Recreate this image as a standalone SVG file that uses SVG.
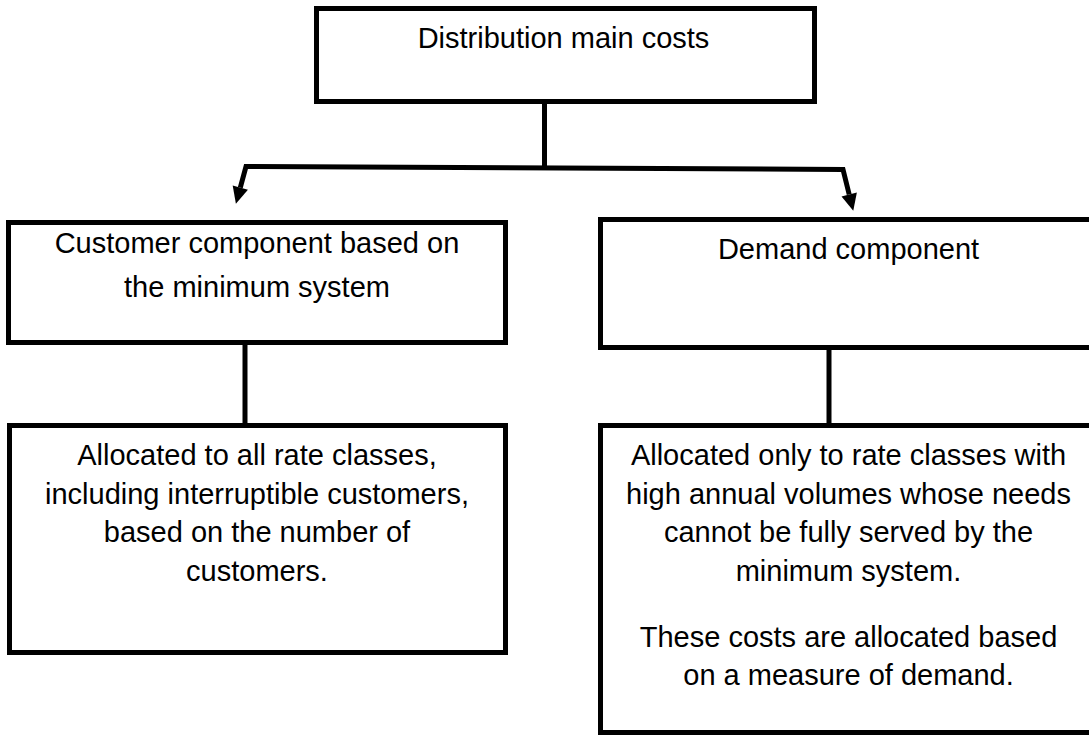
<svg xmlns="http://www.w3.org/2000/svg" width="1089" height="736" viewBox="0 0 1089 736">
<style>
.box{fill:#fff;stroke:#000;stroke-width:5}
.t{font-family:"Liberation Sans",Arial,sans-serif;font-size:29px;fill:#000;text-anchor:middle}
.c{fill:none;stroke:#000;stroke-width:5;stroke-linejoin:miter}
</style>
<defs>
<marker id="ah" markerUnits="userSpaceOnUse" markerWidth="20" markerHeight="20" refX="0" refY="0" viewBox="-1 -9 19 18" orient="auto-start-reverse" overflow="visible">
<path d="M0,-7.5 L16,0 L0,7.5 z" fill="#000"/>
</marker>
</defs>
<rect width="1089" height="736" fill="#fff"/>
<g id="connectors">
<path class="c" d="M544.5,104 L544.5,168"/>
<path class="c" d="M240.3,187.6 L246,166.5 L843,169.5 L849.2,194.5" marker-start="url(#ah)" marker-end="url(#ah)"/>
<path class="c" d="M245,345 L245,423" stroke-width="4.5"/>
<path class="c" d="M829,350 L829,423" stroke-width="4.5"/>
</g>
<g id="main-costs">
<rect class="box" x="316.5" y="8.5" width="498" height="93"/>
<text class="t" x="563.5" y="48">Distribution main costs</text>
</g>
<g id="customer-component">
<rect class="box" x="8.5" y="222.5" width="497" height="120"/>
<text class="t" x="257" y="253">Customer component based on</text>
<text class="t" x="257" y="297">the minimum system</text>
</g>
<g id="customer-allocation">
<rect class="box" x="9.5" y="425.5" width="496" height="227"/>
<text class="t" x="257" y="465">Allocated to all rate classes,</text>
<text class="t" x="257" y="503.5">including interruptible customers,</text>
<text class="t" x="257" y="542">based on the number of</text>
<text class="t" x="257" y="580.5">customers.</text>
</g>
<g id="demand-component">
<rect class="box" x="600.5" y="219.5" width="496" height="128"/>
<text class="t" x="848.5" y="259">Demand component</text>
</g>
<g id="demand-allocation">
<rect class="box" x="600.5" y="425.5" width="496" height="307"/>
<text class="t" x="848.5" y="465">Allocated only to rate classes with</text>
<text class="t" x="848.5" y="503.5">high annual volumes whose needs</text>
<text class="t" x="848.5" y="542">cannot be fully served by the</text>
<text class="t" x="848.5" y="580.5">minimum system.</text>
<text class="t" x="848.5" y="647">These costs are allocated based</text>
<text class="t" x="848.5" y="685">on a measure of demand.</text>
</g>
</svg>
